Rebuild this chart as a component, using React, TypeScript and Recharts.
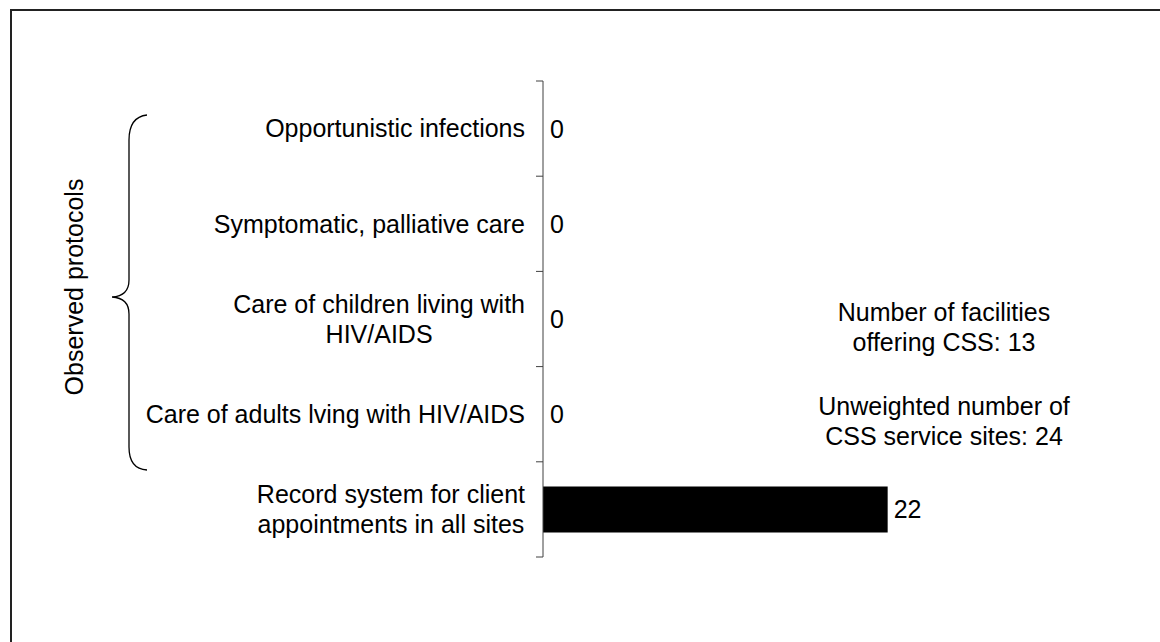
import React from 'react';
import { BarChart, Bar, XAxis, YAxis, LabelList, Cell } from 'recharts';

const categories = [
  'Opportunistic infections',
  'Symptomatic, palliative care',
  'Care of children living with\nHIV/AIDS',
  'Care of adults lving with HIV/AIDS',
  'Record system for client\nappointments in all sites',
];
const values = [0, 0, 0, 0, 22];
const notes = [
  ['Number of facilities', 'offering CSS: 13'],
  ['Unweighted number of', 'CSS service sites: 24'],
];
const groupLabel = 'Observed protocols';

const FONT = '"Liberation Sans", Arial, Helvetica, sans-serif';
const FS = 25;
const LINE_H = 30;
const AXIS_COLOR = '#404040';

const data = categories.map((name, i) => ({ name, value: values[i] }));

let ctx: CanvasRenderingContext2D | null = null;
function textWidth(s: string) {
  if (!ctx) {
    ctx = document.createElement('canvas').getContext('2d');
  }
  if (!ctx) return s.length * FS * 0.5;
  ctx.font = `${FS}px ${FONT}`;
  return ctx.measureText(s).width;
}

// category label: block right-aligned against the axis, lines centred in the block.
// tick marks sit on the band boundaries, not the band centres.
function CategoryTick(props: any) {
  const { x, y, payload, index } = props;
  const lines = String(payload.value).split('\n');
  const w = Math.max(...lines.map(textWidth));
  const cx = x - 18 - w / 2;
  const y0 = y - ((lines.length - 1) * LINE_H) / 2;
  const half = payload.offset || 0;
  const last = index === categories.length - 1;
  return (
    <g>
      <line x1={x - 7} x2={x} y1={y - half} y2={y - half} stroke={AXIS_COLOR} />
      {last && <line x1={x - 7} x2={x} y1={y + half} y2={y + half} stroke={AXIS_COLOR} />}
      {lines.map((l, i) => (
        <text
          key={i}
          x={cx}
          y={y0 + i * LINE_H}
          dy="0.355em"
          textAnchor="middle"
          fontSize={FS}
          fontFamily={FONT}
          fill="#000"
        >
          {l}
        </text>
      ))}
    </g>
  );
}

export default function App() {
  return (
    <div style={{ position: 'absolute', left: 0, top: 0, width: 1160, height: 642, background: '#fff' }}>
      <div
        style={{
          position: 'absolute',
          left: 10,
          top: 9,
          width: 1150,
          height: 633,
          borderTop: '2px solid #222',
          borderLeft: '2px solid #222',
          boxSizing: 'border-box',
        }}
      />
      <div style={{ position: 'absolute', left: 0, top: 0 }}>
        <BarChart
          width={1160}
          height={642}
          data={data}
          layout="vertical"
          margin={{ top: 81, right: 147, bottom: 85, left: 143 }}
          barCategoryGap="26%"
        >
          <XAxis type="number" domain={[0, 30]} hide />
          <YAxis
            type="category"
            dataKey="name"
            width={400}
            axisLine={{ stroke: AXIS_COLOR, strokeWidth: 1 }}
            tickLine={false}
            tickSize={0}
            tickMargin={0}
            interval={0}
            tick={CategoryTick}
          />
          {/* minPointSize keeps the zero rows so their "0" labels are drawn */}
          <Bar dataKey="value" fill="#000" minPointSize={1} isAnimationActive={false}>
            {data.map((d, i) => (
              <Cell key={`c-${i}`} fill={d.value === 0 ? 'none' : '#000'} />
            ))}
            <LabelList
              dataKey="value"
              position="right"
              offset={6}
              fill="#000"
              fontSize={FS}
              fontFamily={FONT}
            />
          </Bar>
        </BarChart>
      </div>
      <svg
        width={1160}
        height={642}
        style={{ position: 'absolute', left: 0, top: 0, pointerEvents: 'none' }}
      >
        <path
          d="M147,115 Q129,117 129,140 L129,280 Q129,296 112,297 Q129,298 129,314 L129,447 Q129,469 147,470"
          fill="none"
          stroke="#000"
          strokeWidth={1.3}
        />
        <text
          x={83}
          y={287}
          transform="rotate(-90 83 287)"
          textAnchor="middle"
          fontSize={FS}
          fontFamily={FONT}
          fill="#000"
        >
          {groupLabel}
        </text>
        {notes.map((pair, i) =>
          pair.map((l, j) => (
            <text
              key={`${i}-${j}`}
              x={944}
              y={(i === 0 ? 321 : 415) + j * 30}
              textAnchor="middle"
              fontSize={FS}
              fontFamily={FONT}
              fill="#000"
            >
              {l}
            </text>
          ))
        )}
      </svg>
    </div>
  );
}
